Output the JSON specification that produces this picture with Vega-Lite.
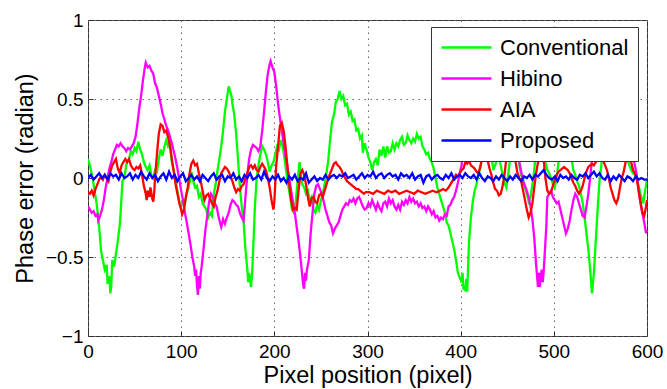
{
  "$schema": "https://vega.github.io/schema/vega-lite/v6.json",
  "width": 559,
  "height": 316,
  "autosize": {"type": "none"},
  "padding": {"left": 88, "top": 20, "right": 20, "bottom": 53},
  "background": "white",
  "config": {
    "font": "Liberation Sans",
    "view": {"stroke": "#333", "strokeWidth": 1},
    "axis": {
      "domain": false,
      "grid": true,
      "gridColor": "#666",
      "gridDash": [1.5, 4.5],
      "gridWidth": 1,
      "ticks": true,
      "tickSize": -5,
      "tickColor": "#333",
      "labelFont": "Liberation Sans",
      "labelFontSize": 19,
      "labelColor": "#000",
      "titleFont": "Liberation Sans",
      "titleFontSize": 23.5,
      "titleFontWeight": "normal",
      "titleColor": "#000"
    }
  },
  "datasets": {
    "conv": [{"x":0,"y":0.12},{"x":2,"y":0.08},{"x":5,"y":0.0},{"x":7,"y":-0.08},{"x":9,"y":-0.15},{"x":11,"y":-0.25},{"x":12,"y":-0.31},{"x":14,"y":-0.46},{"x":16,"y":-0.52},{"x":18,"y":-0.58},{"x":20,"y":-0.55},{"x":21,"y":-0.67},{"x":23,"y":-0.62},{"x":24,"y":-0.73},{"x":25,"y":-0.68},{"x":26,"y":-0.52},{"x":28,"y":-0.56},{"x":30,"y":-0.48},{"x":32,"y":-0.4},{"x":34,"y":-0.3},{"x":35,"y":-0.22},{"x":37,"y":-0.02},{"x":39,"y":0.0},{"x":41,"y":0.08},{"x":42,"y":0.1},{"x":44,"y":0.12},{"x":46,"y":0.17},{"x":48,"y":0.15},{"x":50,"y":0.19},{"x":52,"y":0.17},{"x":54,"y":0.23},{"x":56,"y":0.18},{"x":58,"y":0.15},{"x":60,"y":0.1},{"x":62,"y":0.07},{"x":64,"y":0.05},{"x":66,"y":0.08},{"x":68,"y":0.02},{"x":70,"y":0.0},{"x":72,"y":0.05},{"x":74,"y":0.04},{"x":76,"y":0.12},{"x":78,"y":0.18},{"x":80,"y":0.14},{"x":82,"y":0.2},{"x":84,"y":0.24},{"x":86,"y":0.2},{"x":88,"y":0.22},{"x":90,"y":0.1},{"x":92,"y":0.05},{"x":94,"y":-0.02},{"x":96,"y":-0.08},{"x":98,"y":-0.15},{"x":100,"y":-0.18},{"x":102,"y":-0.14},{"x":104,"y":-0.16},{"x":106,"y":-0.1},{"x":108,"y":-0.06},{"x":110,"y":0.0},{"x":111,"y":0.04},{"x":113,"y":-0.02},{"x":115,"y":-0.06},{"x":117,"y":-0.05},{"x":119,"y":-0.12},{"x":121,"y":-0.1},{"x":123,"y":-0.16},{"x":125,"y":-0.18},{"x":127,"y":-0.2},{"x":129,"y":-0.25},{"x":131,"y":-0.22},{"x":133,"y":-0.24},{"x":135,"y":-0.1},{"x":137,"y":-0.04},{"x":139,"y":0.05},{"x":141,"y":0.12},{"x":143,"y":0.2},{"x":145,"y":0.3},{"x":147,"y":0.42},{"x":149,"y":0.5},{"x":151,"y":0.58},{"x":152,"y":0.56},{"x":154,"y":0.52},{"x":155,"y":0.47},{"x":157,"y":0.4},{"x":159,"y":0.28},{"x":161,"y":0.12},{"x":163,"y":-0.05},{"x":165,"y":-0.18},{"x":167,"y":-0.28},{"x":169,"y":-0.45},{"x":171,"y":-0.58},{"x":172,"y":-0.66},{"x":173,"y":-0.6},{"x":175,"y":-0.69},{"x":176,"y":-0.62},{"x":177,"y":-0.5},{"x":178,"y":-0.35},{"x":179,"y":-0.2},{"x":181,"y":0.0},{"x":183,"y":0.08},{"x":185,"y":0.15},{"x":187,"y":0.2},{"x":189,"y":0.18},{"x":191,"y":0.15},{"x":193,"y":0.1},{"x":195,"y":0.04},{"x":197,"y":0.08},{"x":199,"y":0.1},{"x":201,"y":0.15},{"x":203,"y":0.2},{"x":205,"y":0.18},{"x":207,"y":0.24},{"x":209,"y":0.2},{"x":211,"y":0.12},{"x":213,"y":0.03},{"x":215,"y":-0.05},{"x":217,"y":-0.12},{"x":219,"y":-0.2},{"x":221,"y":-0.22},{"x":223,"y":-0.15},{"x":225,"y":-0.02},{"x":227,"y":0.1},{"x":228,"y":0.05},{"x":230,"y":-0.04},{"x":232,"y":-0.06},{"x":234,"y":-0.1},{"x":236,"y":-0.08},{"x":238,"y":-0.14},{"x":240,"y":-0.12},{"x":242,"y":-0.2},{"x":244,"y":-0.22},{"x":246,"y":-0.17},{"x":248,"y":-0.2},{"x":250,"y":-0.14},{"x":252,"y":-0.1},{"x":254,"y":-0.04},{"x":256,"y":0.03},{"x":258,"y":0.12},{"x":260,"y":0.25},{"x":262,"y":0.36},{"x":264,"y":0.4},{"x":266,"y":0.48},{"x":268,"y":0.5},{"x":270,"y":0.55},{"x":272,"y":0.5},{"x":274,"y":0.52},{"x":276,"y":0.46},{"x":278,"y":0.47},{"x":280,"y":0.4},{"x":282,"y":0.42},{"x":284,"y":0.36},{"x":286,"y":0.37},{"x":288,"y":0.3},{"x":290,"y":0.31},{"x":292,"y":0.25},{"x":294,"y":0.27},{"x":295,"y":0.16},{"x":297,"y":0.22},{"x":299,"y":0.18},{"x":301,"y":0.13},{"x":303,"y":0.1},{"x":305,"y":0.05},{"x":307,"y":0.1},{"x":309,"y":0.12},{"x":311,"y":0.08},{"x":313,"y":0.18},{"x":315,"y":0.14},{"x":317,"y":0.2},{"x":319,"y":0.13},{"x":321,"y":0.2},{"x":323,"y":0.16},{"x":325,"y":0.17},{"x":327,"y":0.22},{"x":329,"y":0.18},{"x":331,"y":0.22},{"x":333,"y":0.2},{"x":335,"y":0.24},{"x":337,"y":0.26},{"x":339,"y":0.21},{"x":341,"y":0.22},{"x":343,"y":0.27},{"x":345,"y":0.24},{"x":347,"y":0.22},{"x":349,"y":0.25},{"x":351,"y":0.23},{"x":353,"y":0.28},{"x":355,"y":0.25},{"x":357,"y":0.26},{"x":359,"y":0.2},{"x":361,"y":0.18},{"x":363,"y":0.15},{"x":365,"y":0.16},{"x":367,"y":0.12},{"x":369,"y":0.1},{"x":371,"y":0.06},{"x":373,"y":0.0},{"x":375,"y":-0.06},{"x":377,"y":-0.1},{"x":379,"y":-0.14},{"x":381,"y":-0.18},{"x":383,"y":-0.22},{"x":385,"y":-0.28},{"x":387,"y":-0.3},{"x":389,"y":-0.35},{"x":391,"y":-0.4},{"x":393,"y":-0.45},{"x":395,"y":-0.52},{"x":397,"y":-0.6},{"x":399,"y":-0.63},{"x":401,"y":-0.66},{"x":402,"y":-0.6},{"x":403,"y":-0.7},{"x":405,"y":-0.71},{"x":406,"y":-0.64},{"x":407,"y":-0.72},{"x":409,"y":-0.4},{"x":411,"y":-0.25},{"x":413,"y":-0.15},{"x":415,"y":-0.08},{"x":417,"y":-0.04},{"x":419,"y":0.02},{"x":421,"y":0.06},{"x":423,"y":0.15},{"x":425,"y":0.25},{"x":427,"y":0.35},{"x":429,"y":0.38},{"x":431,"y":0.3},{"x":433,"y":0.15},{"x":435,"y":0.05},{"x":437,"y":0.08},{"x":439,"y":0.12},{"x":441,"y":0.13},{"x":443,"y":0.08},{"x":445,"y":0.02},{"x":447,"y":-0.03},{"x":449,"y":-0.06},{"x":451,"y":0.02},{"x":453,"y":0.12},{"x":455,"y":0.25},{"x":457,"y":0.32},{"x":459,"y":0.28},{"x":461,"y":0.2},{"x":463,"y":0.08},{"x":465,"y":0.02},{"x":467,"y":-0.01},{"x":469,"y":-0.06},{"x":471,"y":-0.1},{"x":473,"y":-0.15},{"x":475,"y":-0.12},{"x":477,"y":-0.04},{"x":479,"y":0.05},{"x":481,"y":0.18},{"x":483,"y":0.3},{"x":485,"y":0.35},{"x":487,"y":0.28},{"x":489,"y":0.18},{"x":491,"y":0.1},{"x":493,"y":0.05},{"x":495,"y":0.03},{"x":497,"y":0.0},{"x":499,"y":-0.04},{"x":501,"y":-0.06},{"x":503,"y":0.0},{"x":505,"y":0.1},{"x":507,"y":0.22},{"x":509,"y":0.3},{"x":511,"y":0.38},{"x":513,"y":0.4},{"x":515,"y":0.32},{"x":517,"y":0.22},{"x":519,"y":0.12},{"x":521,"y":0.05},{"x":523,"y":0.02},{"x":525,"y":-0.02},{"x":527,"y":-0.05},{"x":529,"y":-0.1},{"x":531,"y":-0.16},{"x":533,"y":-0.25},{"x":535,"y":-0.35},{"x":537,"y":-0.45},{"x":539,"y":-0.58},{"x":541,"y":-0.73},{"x":543,"y":-0.6},{"x":545,"y":-0.4},{"x":547,"y":-0.2},{"x":549,"y":-0.02},{"x":551,"y":0.08},{"x":553,"y":0.22},{"x":555,"y":0.35},{"x":557,"y":0.42},{"x":559,"y":0.38},{"x":561,"y":0.33},{"x":563,"y":0.28},{"x":565,"y":0.25},{"x":567,"y":0.3},{"x":569,"y":0.32},{"x":571,"y":0.26},{"x":573,"y":0.2},{"x":575,"y":0.17},{"x":577,"y":0.14},{"x":579,"y":0.12},{"x":581,"y":0.08},{"x":583,"y":0.05},{"x":585,"y":0.03},{"x":587,"y":0.02},{"x":589,"y":-0.01},{"x":591,"y":-0.05},{"x":593,"y":-0.1},{"x":595,"y":-0.14},{"x":596,"y":-0.16},{"x":598,"y":-0.08},{"x":600,"y":-0.01}],
    "hib": [{"x":0,"y":-0.18},{"x":2,"y":-0.2},{"x":4,"y":-0.22},{"x":6,"y":-0.21},{"x":8,"y":-0.24},{"x":10,"y":-0.23},{"x":11,"y":-0.27},{"x":13,"y":-0.24},{"x":15,"y":-0.2},{"x":17,"y":-0.14},{"x":19,"y":-0.06},{"x":21,"y":0.0},{"x":23,"y":0.06},{"x":25,"y":0.1},{"x":27,"y":0.15},{"x":29,"y":0.18},{"x":31,"y":0.21},{"x":33,"y":0.2},{"x":35,"y":0.22},{"x":37,"y":0.2},{"x":39,"y":0.19},{"x":41,"y":0.17},{"x":43,"y":0.19},{"x":45,"y":0.18},{"x":47,"y":0.2},{"x":49,"y":0.22},{"x":51,"y":0.26},{"x":53,"y":0.34},{"x":55,"y":0.44},{"x":57,"y":0.52},{"x":59,"y":0.62},{"x":61,"y":0.7},{"x":62,"y":0.73},{"x":64,"y":0.7},{"x":66,"y":0.71},{"x":68,"y":0.68},{"x":70,"y":0.66},{"x":72,"y":0.6},{"x":74,"y":0.57},{"x":76,"y":0.52},{"x":78,"y":0.47},{"x":80,"y":0.41},{"x":82,"y":0.37},{"x":84,"y":0.33},{"x":86,"y":0.3},{"x":88,"y":0.26},{"x":90,"y":0.22},{"x":92,"y":0.17},{"x":94,"y":0.12},{"x":96,"y":0.06},{"x":98,"y":-0.01},{"x":100,"y":-0.08},{"x":102,"y":-0.14},{"x":104,"y":-0.22},{"x":106,"y":-0.28},{"x":108,"y":-0.35},{"x":110,"y":-0.42},{"x":112,"y":-0.5},{"x":114,"y":-0.56},{"x":115,"y":-0.62},{"x":116,"y":-0.58},{"x":117,"y":-0.68},{"x":118,"y":-0.74},{"x":119,"y":-0.62},{"x":120,"y":-0.7},{"x":121,"y":-0.6},{"x":122,"y":-0.56},{"x":124,"y":-0.45},{"x":126,"y":-0.33},{"x":128,"y":-0.24},{"x":130,"y":-0.15},{"x":132,"y":-0.1},{"x":134,"y":-0.12},{"x":136,"y":-0.16},{"x":138,"y":-0.18},{"x":140,"y":-0.24},{"x":142,"y":-0.29},{"x":143,"y":-0.31},{"x":145,"y":-0.26},{"x":147,"y":-0.29},{"x":149,"y":-0.25},{"x":151,"y":-0.22},{"x":153,"y":-0.17},{"x":155,"y":-0.14},{"x":157,"y":-0.15},{"x":159,"y":-0.17},{"x":161,"y":-0.18},{"x":163,"y":-0.22},{"x":165,"y":-0.25},{"x":167,"y":-0.27},{"x":169,"y":-0.12},{"x":171,"y":0.02},{"x":173,"y":0.12},{"x":175,"y":0.18},{"x":177,"y":0.21},{"x":179,"y":0.2},{"x":181,"y":0.19},{"x":183,"y":0.17},{"x":185,"y":0.2},{"x":187,"y":0.3},{"x":189,"y":0.42},{"x":191,"y":0.55},{"x":193,"y":0.66},{"x":195,"y":0.72},{"x":196,"y":0.74},{"x":198,"y":0.7},{"x":200,"y":0.67},{"x":202,"y":0.58},{"x":204,"y":0.47},{"x":206,"y":0.38},{"x":208,"y":0.3},{"x":210,"y":0.22},{"x":212,"y":0.14},{"x":214,"y":0.07},{"x":216,"y":0.0},{"x":218,"y":-0.08},{"x":220,"y":-0.15},{"x":222,"y":-0.22},{"x":224,"y":-0.31},{"x":226,"y":-0.4},{"x":228,"y":-0.5},{"x":229,"y":-0.56},{"x":230,"y":-0.62},{"x":231,"y":-0.68},{"x":232,"y":-0.7},{"x":233,"y":-0.6},{"x":234,"y":-0.65},{"x":235,"y":-0.58},{"x":237,"y":-0.52},{"x":239,"y":-0.35},{"x":241,"y":-0.22},{"x":243,"y":-0.1},{"x":245,"y":-0.05},{"x":247,"y":-0.04},{"x":249,"y":-0.07},{"x":251,"y":-0.1},{"x":253,"y":-0.15},{"x":255,"y":-0.2},{"x":257,"y":-0.24},{"x":259,"y":-0.28},{"x":261,"y":-0.3},{"x":263,"y":-0.35},{"x":265,"y":-0.32},{"x":267,"y":-0.3},{"x":269,"y":-0.28},{"x":271,"y":-0.24},{"x":273,"y":-0.2},{"x":275,"y":-0.18},{"x":277,"y":-0.16},{"x":279,"y":-0.17},{"x":281,"y":-0.14},{"x":283,"y":-0.15},{"x":285,"y":-0.13},{"x":287,"y":-0.16},{"x":289,"y":-0.13},{"x":291,"y":-0.12},{"x":293,"y":-0.15},{"x":295,"y":-0.18},{"x":297,"y":-0.2},{"x":299,"y":-0.19},{"x":301,"y":-0.16},{"x":303,"y":-0.18},{"x":305,"y":-0.14},{"x":307,"y":-0.17},{"x":309,"y":-0.2},{"x":311,"y":-0.16},{"x":313,"y":-0.19},{"x":315,"y":-0.21},{"x":317,"y":-0.16},{"x":319,"y":-0.15},{"x":321,"y":-0.18},{"x":323,"y":-0.13},{"x":325,"y":-0.16},{"x":327,"y":-0.14},{"x":329,"y":-0.18},{"x":331,"y":-0.2},{"x":333,"y":-0.17},{"x":335,"y":-0.2},{"x":337,"y":-0.15},{"x":339,"y":-0.17},{"x":341,"y":-0.14},{"x":343,"y":-0.16},{"x":345,"y":-0.12},{"x":347,"y":-0.15},{"x":349,"y":-0.13},{"x":351,"y":-0.16},{"x":353,"y":-0.15},{"x":355,"y":-0.18},{"x":357,"y":-0.16},{"x":359,"y":-0.19},{"x":361,"y":-0.18},{"x":363,"y":-0.21},{"x":365,"y":-0.18},{"x":367,"y":-0.2},{"x":369,"y":-0.23},{"x":371,"y":-0.21},{"x":373,"y":-0.25},{"x":375,"y":-0.24},{"x":377,"y":-0.27},{"x":379,"y":-0.25},{"x":381,"y":-0.26},{"x":383,"y":-0.23},{"x":385,"y":-0.24},{"x":387,"y":-0.18},{"x":389,"y":-0.17},{"x":391,"y":-0.14},{"x":393,"y":-0.12},{"x":395,"y":-0.08},{"x":397,"y":-0.03},{"x":399,"y":0.03},{"x":401,"y":0.08},{"x":403,"y":0.2},{"x":405,"y":0.32},{"x":407,"y":0.42},{"x":409,"y":0.5},{"x":411,"y":0.56},{"x":413,"y":0.6},{"x":415,"y":0.58},{"x":417,"y":0.52},{"x":419,"y":0.47},{"x":421,"y":0.42},{"x":423,"y":0.4},{"x":425,"y":0.44},{"x":427,"y":0.48},{"x":429,"y":0.5},{"x":431,"y":0.45},{"x":433,"y":0.4},{"x":435,"y":0.32},{"x":437,"y":0.3},{"x":439,"y":0.34},{"x":441,"y":0.38},{"x":443,"y":0.4},{"x":445,"y":0.36},{"x":447,"y":0.3},{"x":449,"y":0.28},{"x":451,"y":0.33},{"x":453,"y":0.3},{"x":455,"y":0.25},{"x":457,"y":0.22},{"x":459,"y":0.2},{"x":461,"y":0.16},{"x":463,"y":0.1},{"x":465,"y":0.04},{"x":467,"y":-0.02},{"x":469,"y":-0.05},{"x":471,"y":-0.08},{"x":473,"y":-0.12},{"x":475,"y":-0.18},{"x":477,"y":-0.26},{"x":479,"y":-0.38},{"x":481,"y":-0.55},{"x":482,"y":-0.62},{"x":483,"y":-0.69},{"x":484,"y":-0.6},{"x":485,"y":-0.69},{"x":486,"y":-0.62},{"x":487,"y":-0.58},{"x":488,"y":-0.66},{"x":489,"y":-0.6},{"x":490,"y":-0.5},{"x":492,"y":-0.3},{"x":493,"y":-0.12},{"x":495,"y":-0.1},{"x":497,"y":-0.08},{"x":499,"y":-0.12},{"x":501,"y":-0.14},{"x":503,"y":-0.16},{"x":505,"y":-0.15},{"x":507,"y":-0.2},{"x":509,"y":-0.25},{"x":511,"y":-0.3},{"x":513,"y":-0.35},{"x":515,"y":-0.32},{"x":517,"y":-0.27},{"x":519,"y":-0.2},{"x":521,"y":-0.14},{"x":523,"y":-0.1},{"x":525,"y":-0.12},{"x":527,"y":-0.16},{"x":529,"y":-0.2},{"x":531,"y":-0.24},{"x":533,"y":-0.25},{"x":535,"y":-0.18},{"x":537,"y":-0.1},{"x":539,"y":0.0},{"x":541,"y":0.12},{"x":543,"y":0.25},{"x":545,"y":0.35},{"x":547,"y":0.45},{"x":549,"y":0.5},{"x":551,"y":0.55},{"x":553,"y":0.58},{"x":555,"y":0.52},{"x":557,"y":0.48},{"x":559,"y":0.42},{"x":561,"y":0.38},{"x":563,"y":0.35},{"x":565,"y":0.38},{"x":567,"y":0.42},{"x":569,"y":0.45},{"x":571,"y":0.42},{"x":573,"y":0.38},{"x":575,"y":0.3},{"x":577,"y":0.26},{"x":579,"y":0.22},{"x":581,"y":0.2},{"x":583,"y":0.17},{"x":585,"y":0.14},{"x":587,"y":0.08},{"x":589,"y":0.02},{"x":591,"y":-0.08},{"x":593,"y":-0.16},{"x":595,"y":-0.22},{"x":597,"y":-0.28},{"x":599,"y":-0.35},{"x":600,"y":-0.33}],
    "aia": [{"x":0,"y":-0.09},{"x":2,"y":-0.1},{"x":4,"y":-0.08},{"x":6,"y":-0.11},{"x":8,"y":-0.07},{"x":10,"y":-0.04},{"x":12,"y":-0.01},{"x":14,"y":0.01},{"x":16,"y":-0.01},{"x":18,"y":0.02},{"x":20,"y":0.0},{"x":22,"y":-0.02},{"x":24,"y":0.04},{"x":26,"y":0.08},{"x":28,"y":0.1},{"x":30,"y":0.12},{"x":32,"y":0.06},{"x":34,"y":0.03},{"x":36,"y":0.08},{"x":38,"y":0.1},{"x":40,"y":0.12},{"x":42,"y":0.1},{"x":44,"y":0.12},{"x":46,"y":0.08},{"x":48,"y":0.06},{"x":50,"y":0.05},{"x":52,"y":0.07},{"x":54,"y":0.06},{"x":56,"y":0.08},{"x":58,"y":0.02},{"x":60,"y":-0.05},{"x":62,"y":-0.1},{"x":63,"y":-0.14},{"x":64,"y":-0.08},{"x":66,"y":-0.12},{"x":67,"y":-0.06},{"x":69,"y":-0.13},{"x":70,"y":-0.15},{"x":71,"y":-0.1},{"x":72,"y":0.0},{"x":74,"y":0.15},{"x":76,"y":0.28},{"x":78,"y":0.34},{"x":80,"y":0.33},{"x":82,"y":0.29},{"x":84,"y":0.3},{"x":86,"y":0.26},{"x":88,"y":0.2},{"x":90,"y":0.12},{"x":92,"y":0.04},{"x":94,"y":-0.04},{"x":96,"y":-0.1},{"x":98,"y":-0.16},{"x":100,"y":-0.2},{"x":101,"y":-0.23},{"x":103,"y":-0.2},{"x":105,"y":-0.12},{"x":107,"y":-0.06},{"x":109,"y":0.03},{"x":111,"y":0.09},{"x":113,"y":0.11},{"x":115,"y":0.08},{"x":117,"y":0.09},{"x":119,"y":0.03},{"x":121,"y":-0.02},{"x":123,"y":-0.08},{"x":125,"y":-0.14},{"x":127,"y":-0.11},{"x":129,"y":-0.1},{"x":131,"y":-0.13},{"x":133,"y":-0.16},{"x":135,"y":-0.18},{"x":137,"y":-0.12},{"x":139,"y":-0.08},{"x":141,"y":-0.02},{"x":143,"y":0.03},{"x":145,"y":0.05},{"x":147,"y":0.07},{"x":149,"y":0.06},{"x":151,"y":0.04},{"x":153,"y":0.01},{"x":155,"y":-0.02},{"x":157,"y":-0.06},{"x":159,"y":-0.09},{"x":161,"y":-0.07},{"x":163,"y":-0.08},{"x":165,"y":-0.05},{"x":167,"y":-0.04},{"x":169,"y":0.0},{"x":171,"y":0.03},{"x":173,"y":0.07},{"x":175,"y":0.08},{"x":177,"y":0.06},{"x":179,"y":0.08},{"x":181,"y":0.05},{"x":183,"y":0.04},{"x":185,"y":0.07},{"x":187,"y":0.09},{"x":189,"y":0.07},{"x":191,"y":0.05},{"x":193,"y":0.0},{"x":195,"y":-0.06},{"x":197,"y":-0.14},{"x":199,"y":-0.2},{"x":200,"y":-0.15},{"x":202,"y":0.08},{"x":204,"y":0.2},{"x":206,"y":0.33},{"x":208,"y":0.35},{"x":210,"y":0.3},{"x":212,"y":0.2},{"x":214,"y":0.08},{"x":216,"y":-0.04},{"x":218,"y":-0.14},{"x":220,"y":-0.2},{"x":222,"y":-0.19},{"x":224,"y":-0.2},{"x":226,"y":-0.08},{"x":228,"y":0.03},{"x":230,"y":0.05},{"x":232,"y":0.02},{"x":234,"y":-0.04},{"x":236,"y":-0.12},{"x":238,"y":-0.18},{"x":240,"y":-0.13},{"x":242,"y":-0.12},{"x":244,"y":-0.15},{"x":246,"y":-0.16},{"x":248,"y":-0.11},{"x":250,"y":-0.1},{"x":252,"y":-0.12},{"x":254,"y":-0.08},{"x":256,"y":-0.04},{"x":258,"y":0.0},{"x":260,"y":0.03},{"x":262,"y":0.06},{"x":264,"y":0.09},{"x":266,"y":0.1},{"x":268,"y":0.08},{"x":270,"y":0.07},{"x":272,"y":0.05},{"x":274,"y":0.02},{"x":276,"y":0.0},{"x":278,"y":-0.02},{"x":280,"y":-0.03},{"x":282,"y":-0.04},{"x":284,"y":-0.05},{"x":286,"y":-0.06},{"x":288,"y":-0.07},{"x":290,"y":-0.07},{"x":292,"y":-0.08},{"x":294,"y":-0.09},{"x":296,"y":-0.1},{"x":298,"y":-0.09},{"x":302,"y":-0.09},{"x":306,"y":-0.1},{"x":310,"y":-0.08},{"x":314,"y":-0.09},{"x":318,"y":-0.1},{"x":322,"y":-0.08},{"x":326,"y":-0.09},{"x":330,"y":-0.08},{"x":334,"y":-0.1},{"x":338,"y":-0.09},{"x":342,"y":-0.08},{"x":346,"y":-0.09},{"x":350,"y":-0.1},{"x":354,"y":-0.08},{"x":358,"y":-0.09},{"x":362,"y":-0.1},{"x":366,"y":-0.09},{"x":370,"y":-0.08},{"x":374,"y":-0.09},{"x":378,"y":-0.08},{"x":381,"y":-0.07},{"x":384,"y":-0.08},{"x":387,"y":-0.06},{"x":389,"y":-0.04},{"x":391,"y":-0.02},{"x":393,"y":0.0},{"x":395,"y":0.02},{"x":397,"y":0.01},{"x":399,"y":0.03},{"x":401,"y":0.05},{"x":403,"y":0.06},{"x":405,"y":0.1},{"x":407,"y":0.09},{"x":409,"y":0.11},{"x":411,"y":0.08},{"x":413,"y":0.07},{"x":415,"y":0.06},{"x":417,"y":0.04},{"x":419,"y":0.03},{"x":421,"y":0.07},{"x":423,"y":0.12},{"x":425,"y":0.13},{"x":427,"y":0.12},{"x":429,"y":0.11},{"x":431,"y":0.06},{"x":433,"y":0.02},{"x":435,"y":-0.03},{"x":437,"y":-0.07},{"x":439,"y":-0.08},{"x":441,"y":-0.11},{"x":443,"y":-0.1},{"x":445,"y":-0.05},{"x":447,"y":0.02},{"x":449,"y":0.12},{"x":451,"y":0.22},{"x":453,"y":0.3},{"x":455,"y":0.28},{"x":457,"y":0.2},{"x":459,"y":0.1},{"x":461,"y":0.03},{"x":463,"y":0.0},{"x":465,"y":-0.02},{"x":467,"y":-0.08},{"x":469,"y":-0.14},{"x":471,"y":-0.2},{"x":473,"y":-0.25},{"x":475,"y":-0.22},{"x":477,"y":-0.16},{"x":479,"y":-0.06},{"x":481,"y":0.03},{"x":483,"y":0.1},{"x":485,"y":0.13},{"x":487,"y":0.2},{"x":489,"y":0.12},{"x":491,"y":0.0},{"x":493,"y":-0.08},{"x":495,"y":-0.1},{"x":497,"y":-0.09},{"x":499,"y":-0.05},{"x":501,"y":-0.01},{"x":503,"y":0.02},{"x":505,"y":0.04},{"x":507,"y":0.05},{"x":509,"y":0.06},{"x":511,"y":0.07},{"x":513,"y":0.06},{"x":515,"y":0.05},{"x":517,"y":0.03},{"x":519,"y":0.0},{"x":521,"y":-0.03},{"x":523,"y":-0.05},{"x":525,"y":-0.08},{"x":527,"y":-0.1},{"x":529,"y":-0.08},{"x":531,"y":-0.05},{"x":533,"y":0.0},{"x":535,"y":0.04},{"x":537,"y":0.07},{"x":539,"y":0.08},{"x":541,"y":0.09},{"x":543,"y":0.08},{"x":545,"y":0.1},{"x":547,"y":0.11},{"x":549,"y":0.12},{"x":551,"y":0.13},{"x":553,"y":0.11},{"x":555,"y":0.08},{"x":557,"y":0.05},{"x":559,"y":0.0},{"x":561,"y":-0.06},{"x":563,"y":-0.1},{"x":565,"y":-0.14},{"x":567,"y":-0.16},{"x":569,"y":-0.13},{"x":571,"y":-0.06},{"x":573,"y":0.0},{"x":575,"y":0.04},{"x":577,"y":0.1},{"x":579,"y":0.15},{"x":581,"y":0.13},{"x":583,"y":0.1},{"x":585,"y":0.05},{"x":587,"y":0.03},{"x":589,"y":0.0},{"x":591,"y":-0.08},{"x":593,"y":-0.15},{"x":595,"y":-0.22},{"x":597,"y":-0.24},{"x":599,"y":-0.18},{"x":600,"y":-0.14}],
    "prop": [{"x":0,"y":0.0},{"x":3,"y":0.02},{"x":6,"y":-0.01},{"x":9,"y":0.01},{"x":12,"y":0.03},{"x":15,"y":0.0},{"x":18,"y":0.02},{"x":21,"y":-0.01},{"x":24,"y":0.03},{"x":27,"y":0.01},{"x":30,"y":0.02},{"x":33,"y":-0.01},{"x":36,"y":0.03},{"x":39,"y":0.0},{"x":42,"y":0.01},{"x":45,"y":0.03},{"x":48,"y":-0.01},{"x":51,"y":0.02},{"x":54,"y":0.0},{"x":57,"y":0.04},{"x":60,"y":0.01},{"x":63,"y":-0.01},{"x":66,"y":0.03},{"x":69,"y":0.0},{"x":72,"y":0.02},{"x":75,"y":-0.02},{"x":78,"y":0.01},{"x":81,"y":0.03},{"x":84,"y":-0.01},{"x":87,"y":0.04},{"x":90,"y":0.0},{"x":93,"y":0.02},{"x":96,"y":-0.02},{"x":99,"y":0.01},{"x":102,"y":0.03},{"x":105,"y":-0.02},{"x":108,"y":0.0},{"x":111,"y":0.02},{"x":114,"y":-0.01},{"x":117,"y":0.01},{"x":120,"y":-0.02},{"x":123,"y":0.02},{"x":126,"y":0.0},{"x":129,"y":-0.02},{"x":132,"y":0.01},{"x":135,"y":0.03},{"x":138,"y":-0.01},{"x":141,"y":0.01},{"x":144,"y":0.02},{"x":147,"y":-0.02},{"x":150,"y":0.01},{"x":153,"y":0.0},{"x":156,"y":0.03},{"x":159,"y":-0.01},{"x":162,"y":0.01},{"x":165,"y":-0.02},{"x":168,"y":0.02},{"x":171,"y":0.0},{"x":174,"y":0.03},{"x":177,"y":-0.01},{"x":180,"y":0.0},{"x":183,"y":0.02},{"x":186,"y":-0.01},{"x":189,"y":0.04},{"x":192,"y":0.0},{"x":195,"y":-0.02},{"x":198,"y":0.01},{"x":201,"y":-0.01},{"x":204,"y":0.02},{"x":207,"y":-0.02},{"x":210,"y":0.0},{"x":213,"y":-0.03},{"x":216,"y":0.01},{"x":219,"y":-0.01},{"x":222,"y":0.02},{"x":225,"y":-0.02},{"x":228,"y":0.0},{"x":231,"y":-0.01},{"x":234,"y":0.03},{"x":237,"y":-0.03},{"x":240,"y":-0.01},{"x":243,"y":0.01},{"x":246,"y":-0.02},{"x":249,"y":0.0},{"x":252,"y":-0.01},{"x":255,"y":0.02},{"x":258,"y":-0.01},{"x":261,"y":0.01},{"x":264,"y":0.02},{"x":267,"y":0.0},{"x":270,"y":0.02},{"x":273,"y":0.01},{"x":276,"y":0.03},{"x":279,"y":0.0},{"x":282,"y":0.01},{"x":285,"y":0.02},{"x":288,"y":-0.01},{"x":291,"y":0.01},{"x":294,"y":0.03},{"x":297,"y":0.0},{"x":300,"y":0.02},{"x":303,"y":0.01},{"x":306,"y":0.04},{"x":309,"y":0.0},{"x":312,"y":0.02},{"x":315,"y":0.03},{"x":318,"y":0.0},{"x":321,"y":0.02},{"x":324,"y":0.03},{"x":327,"y":0.01},{"x":330,"y":0.02},{"x":333,"y":-0.01},{"x":336,"y":0.03},{"x":339,"y":0.01},{"x":342,"y":0.02},{"x":345,"y":0.0},{"x":348,"y":0.03},{"x":351,"y":-0.01},{"x":354,"y":0.01},{"x":357,"y":0.02},{"x":360,"y":-0.03},{"x":363,"y":0.01},{"x":366,"y":0.02},{"x":369,"y":-0.01},{"x":372,"y":0.01},{"x":375,"y":0.02},{"x":378,"y":0.0},{"x":381,"y":-0.01},{"x":384,"y":0.02},{"x":387,"y":0.0},{"x":390,"y":0.03},{"x":393,"y":-0.01},{"x":396,"y":0.01},{"x":399,"y":0.02},{"x":402,"y":0.0},{"x":405,"y":0.03},{"x":408,"y":0.01},{"x":411,"y":0.0},{"x":414,"y":0.02},{"x":417,"y":-0.01},{"x":420,"y":0.03},{"x":423,"y":0.0},{"x":426,"y":-0.02},{"x":429,"y":0.01},{"x":432,"y":0.0},{"x":435,"y":-0.02},{"x":438,"y":0.01},{"x":441,"y":-0.01},{"x":444,"y":0.02},{"x":447,"y":0.0},{"x":450,"y":-0.02},{"x":453,"y":0.01},{"x":456,"y":-0.01},{"x":459,"y":0.02},{"x":462,"y":0.0},{"x":465,"y":-0.02},{"x":468,"y":0.01},{"x":471,"y":0.0},{"x":474,"y":0.02},{"x":477,"y":-0.01},{"x":480,"y":0.02},{"x":483,"y":0.01},{"x":486,"y":0.03},{"x":489,"y":0.05},{"x":492,"y":0.02},{"x":495,"y":0.0},{"x":498,"y":-0.01},{"x":501,"y":0.01},{"x":504,"y":-0.02},{"x":507,"y":0.02},{"x":510,"y":0.0},{"x":513,"y":0.01},{"x":516,"y":-0.01},{"x":519,"y":0.02},{"x":522,"y":0.0},{"x":525,"y":-0.01},{"x":528,"y":0.02},{"x":531,"y":0.01},{"x":534,"y":0.03},{"x":537,"y":0.0},{"x":540,"y":0.02},{"x":543,"y":0.04},{"x":546,"y":0.01},{"x":549,"y":0.03},{"x":552,"y":0.0},{"x":555,"y":-0.01},{"x":558,"y":0.02},{"x":561,"y":-0.02},{"x":564,"y":0.01},{"x":567,"y":-0.01},{"x":570,"y":0.02},{"x":573,"y":0.0},{"x":576,"y":-0.02},{"x":579,"y":0.01},{"x":582,"y":0.0},{"x":585,"y":-0.02},{"x":588,"y":0.01},{"x":591,"y":-0.01},{"x":594,"y":0.0},{"x":597,"y":-0.01},{"x":600,"y":-0.01}]
  },
  "encoding": {
    "x": {
      "field": "x", "type": "quantitative",
      "scale": {"domain": [0, 600], "nice": false, "zero": false},
      "axis": {"values": [0, 100, 200, 300, 400, 500, 600], "title": "Pixel position (pixel)", "labelPadding": 11, "titlePadding": 2, "labelFlush": false}
    },
    "y": {
      "field": "y", "type": "quantitative",
      "scale": {"domain": [-1, 1], "nice": false},
      "axis": {"values": [-1, -0.5, 0, 0.5, 1], "format": "~g", "title": "Phase error (radian)", "labelPadding": 10, "titlePadding": 8, "labelFlush": false}
    }
  },
  "layer": [
    {"data": {"name": "conv"}, "mark": {"type": "line", "strokeWidth": 2.3, "clip": true},
     "encoding": {"color": {"datum": "Conventional", "type": "nominal"}}},
    {"data": {"name": "hib"}, "mark": {"type": "line", "strokeWidth": 2.3, "clip": true},
     "encoding": {"color": {"datum": "Hibino", "type": "nominal"}}},
    {"data": {"name": "aia"}, "mark": {"type": "line", "strokeWidth": 2.3, "clip": true},
     "encoding": {"color": {"datum": "AIA", "type": "nominal"}}},
    {"data": {"name": "prop"}, "mark": {"type": "line", "strokeWidth": 2.3, "clip": true},
     "encoding": {"color": {"datum": "Proposed", "type": "nominal",
       "scale": {"domain": ["Conventional", "Hibino", "AIA", "Proposed"], "range": ["#00ff00", "#ff00ff", "#ff0000", "#0000ff"]},
       "legend": {"title": null, "orient": "none", "legendX": 343, "legendY": 7, "fillColor": "white", "strokeColor": "#333", "padding": 9, "symbolType": "M-1,0H4", "symbolSize": 400, "symbolStrokeWidth": 2.5, "symbolFillColor": "transparent", "labelFontSize": 22, "labelFont": "Liberation Sans", "labelColor": "#000", "labelOffset": 37, "rowPadding": 8, "labelLimit": 300}}}}
  ]
}
